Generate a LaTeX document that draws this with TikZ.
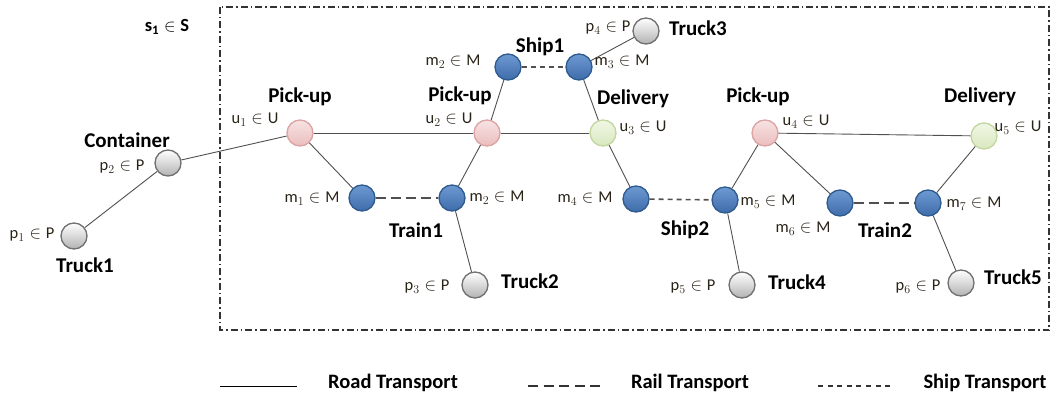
\documentclass[tikz,border=0pt]{standalone}
\usepackage{fontspec}
\setmainfont{Carlito}
\definecolor{blueD}{HTML}{2F5A8E}
\definecolor{blueL}{HTML}{6E9AD2}
\definecolor{blueM}{HTML}{3E6CAA}
\definecolor{pinkD}{HTML}{DBA3A3}
\definecolor{pinkL}{HTML}{F7E3E3}
\definecolor{pinkM}{HTML}{EBBDBD}
\definecolor{greenD}{HTML}{C2D6A0}
\definecolor{greenL}{HTML}{F1F7E6}
\definecolor{greenM}{HTML}{D9E8BF}
\definecolor{grayD}{HTML}{707070}
\definecolor{mathc}{HTML}{2A2418}
\definecolor{edgec}{HTML}{505050}
\tikzset{
  ball/.style={circle, minimum size=26pt, inner sep=0pt, line width=1.3pt},
  grayn/.style={ball, draw=grayD, top color=white, bottom color=black!30},
  bluen/.style={ball, draw=blueD, top color=blueL, bottom color=blueM},
  pinkn/.style={ball, draw=pinkD, top color=pinkL, bottom color=pinkM},
  greenn/.style={ball, draw=greenD, top color=greenL, bottom color=greenM},
  lbl/.style={font=\fontsize{21}{24}\selectfont\bfseries, inner sep=0pt},
  mlbl/.style={font=\fontsize{16.5}{19}\selectfont, inner sep=0pt, text=mathc},
  legtxt/.style={font=\fontsize{20.5}{24}\selectfont\bfseries, inner sep=0pt},
  road/.style={draw=edgec, line width=0.9pt},
  rail/.style={draw=edgec, line width=2pt, dash pattern=on 10pt off 5pt},
  ship/.style={draw=edgec, line width=1.6pt, dash pattern=on 5pt off 4pt},
  framebox/.style={draw=black!80, line width=1.2pt, dash pattern=on 7pt off 3pt on 1.5pt off 3pt}
}
\begin{document}
\begin{tikzpicture}[x=1pt,y=-1pt]
\useasboundingbox (0,0) rectangle (1056,398);
\fill[white] (0,0) rectangle (1056,398);
% frame
\draw[framebox] (220,7) rectangle (1049,330);
\node[font=\fontsize{18.5}{22}\selectfont, inner sep=0pt] (slabel) at (167,27) {$\mathbf{s}_{\mathbf{1}}\in \mathbf{S}$};

% nodes
\node[grayn] (p1) at (74,236) {};
\node[grayn] (p2) at (168,163) {};
\node[pinkn] (u1) at (300,133) {};
\node[pinkn] (u2) at (487,133) {};
\node[greenn] (u3) at (603,133) {};
\node[bluen] (m1) at (362,198) {};
\node[bluen] (m2b) at (452,198) {};
\node[bluen] (m2a) at (508,67) {};
\node[bluen] (m3) at (579,67) {};
\node[grayn] (p4) at (646,31) {};
\node[bluen] (m4) at (636,199) {};
\node[grayn] (p3) at (475,285) {};
\node[bluen] (m5) at (725,200) {};
\node[bluen] (m6) at (840,203) {};
\node[bluen] (m7) at (928,203) {};
\node[pinkn] (u4) at (765,133) {};
\node[greenn] (u5) at (984,136) {};
\node[grayn] (p5) at (742,285) {};
\node[grayn] (p6) at (961,283) {};

% road edges
\draw[road] (p1) -- (p2);
\draw[road] (p2) -- (u1);
\draw[road] (u1) -- (u2);
\draw[road] (u2) -- (u3);
\draw[road] (u1) -- (m1);
\draw[road] (u2) -- (m2b);
\draw[road] (u2) -- (m2a);
\draw[road] (m3) -- (u3);
\draw[road] (m3) -- (p4);
\draw[road] (u3) -- (m4);
\draw[road] (m2b) -- (p3);
\draw[road] (m5) -- (u4);
\draw[road] (m5) -- (p5);
\draw[road] (u4) -- (m6);
\draw[road] (u4) -- (u5);
\draw[road] (u5) -- (m7);
\draw[road] (m7) -- (p6);
% rail edges
\draw[rail] (m1) -- (m2b);
\draw[rail] (m6) -- (m7);
% ship edges
\draw[ship] (m2a) -- (m3);
\draw[ship] (m4) -- (m5);

% bold labels
\node[lbl] (lpu1) at (300,97) {Pick-up};
\node[lbl] (lcont) at (127,140) {Container};
\node[lbl] (ltr1) at (85,265) {Truck1};
\node[lbl] (ltrain1) at (416,230) {Train1};
\node[lbl] (ltr2) at (530,281) {Truck2};
\node[lbl] (lpu2) at (460,96) {Pick-up};
\node[lbl] (lship1) at (540,47) {Ship1};
\node[lbl] (ltr3) at (698,28) {Truck3};
\node[lbl] (ldel1) at (633,99) {Delivery};
\node[lbl] (lship2) at (685,230) {Ship2};
\node[lbl] (ltr4) at (797,282) {Truck4};
\node[lbl] (lpu4) at (758,97) {Pick-up};
\node[lbl] (ltrain2) at (885,230) {Train2};
\node[lbl] (ltr5) at (1013,277) {Truck5};
\node[lbl] (ldel2) at (980,97) {Delivery};

% math labels
\node[mlbl] (mu1) at (255,120) {$\mathrm{u}_1\in\mathrm{U}$};
\node[mlbl] (mp2) at (122,167) {$\mathrm{p}_2\in\mathrm{P}$};
\node[mlbl] (mp1) at (32,235) {$\mathrm{p}_1\in\mathrm{P}$};
\node[mlbl] (mm1) at (312,199) {$\mathrm{m}_1\in\mathrm{M}$};
\node[mlbl] (mm2b) at (497,198) {$\mathrm{m}_2\in\mathrm{M}$};
\node[mlbl] (mp3) at (427,287) {$\mathrm{p}_3\in\mathrm{P}$};
\node[mlbl] (mu2) at (449,120) {$\mathrm{u}_2\in\mathrm{U}$};
\node[mlbl] (mm2a) at (453,62) {$\mathrm{m}_2\in\mathrm{M}$};
\node[mlbl] (mm3) at (622,62) {$\mathrm{m}_3\in\mathrm{M}$};
\node[mlbl] (mp4) at (608,28) {$\mathrm{p}_4\in\mathrm{P}$};
\node[mlbl] (mu3) at (643,128) {$\mathrm{u}_3\in\mathrm{U}$};
\node[mlbl] (mm4) at (585,199) {$\mathrm{m}_4\in\mathrm{M}$};
\node[mlbl] (mm5) at (768,202) {$\mathrm{m}_5\in\mathrm{M}$};
\node[mlbl] (mp5) at (693,287) {$\mathrm{p}_5\in\mathrm{P}$};
\node[mlbl] (mu4) at (806,122) {$\mathrm{u}_4\in\mathrm{U}$};
\node[mlbl] (mm6) at (803,229) {$\mathrm{m}_6\in\mathrm{M}$};
\node[mlbl] (mm7) at (974,204) {$\mathrm{m}_7\in\mathrm{M}$};
\node[mlbl] (mp6) at (918,287) {$\mathrm{p}_6\in\mathrm{P}$};
\node[mlbl] (mu5) at (1018,128) {$\mathrm{u}_5\in\mathrm{U}$};

% legend
\coordinate (roadA) at (220,386);
\coordinate (roadB) at (297,386);
\coordinate (railA) at (528,386);
\coordinate (railB) at (602,386);
\coordinate (shipA) at (818,386);
\coordinate (shipB) at (893,386);
\draw[draw=black, line width=0.9pt] (roadA) -- (roadB);
\draw[draw=black!80, line width=1.6pt, dash pattern=on 10pt off 5.5pt] (railA) -- (railB);
\draw[draw=black!80, line width=1.2pt, dash pattern=on 5pt off 4.6pt] (shipA) -- (shipB);
\node[legtxt] (lroad) at (393,383) {Road Transport};
\node[legtxt] (lrail) at (690,383) {Rail Transport};
\node[legtxt] (lshipt) at (985,383) {Ship Transport};
\end{tikzpicture}
\end{document}
